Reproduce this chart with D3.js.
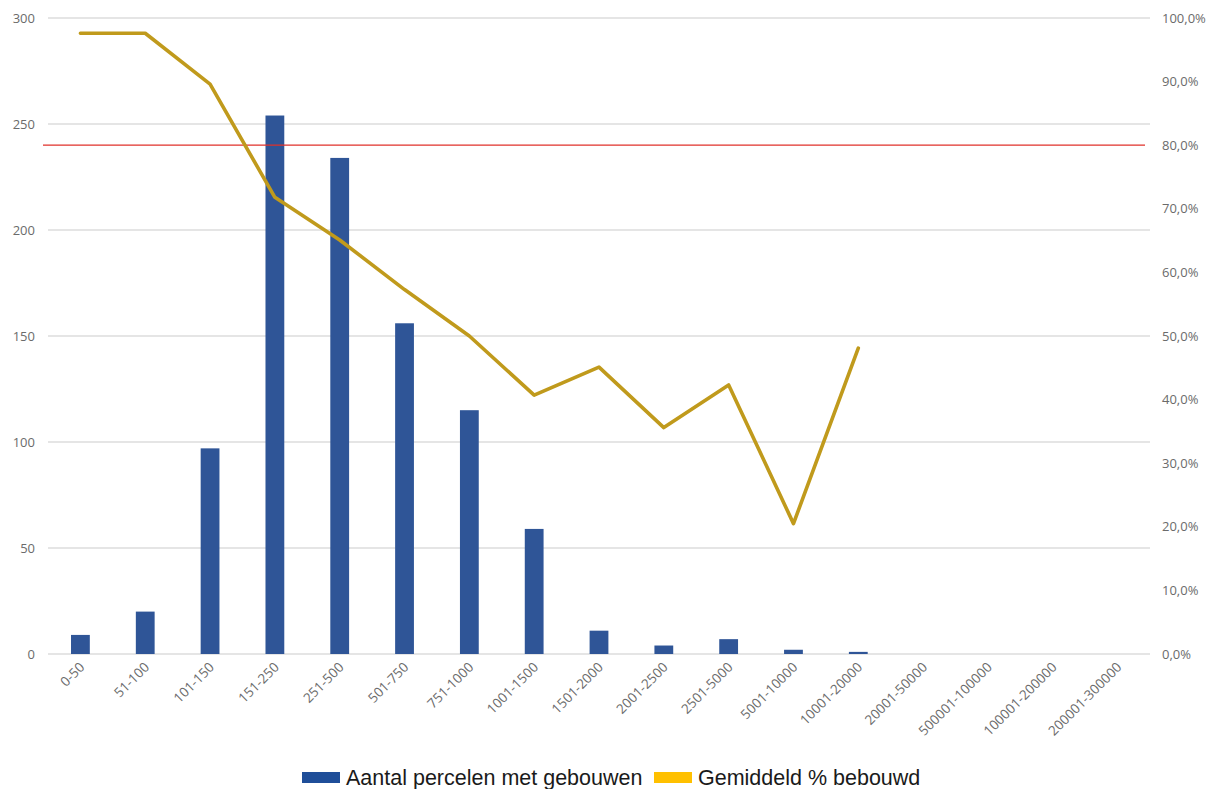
<!DOCTYPE html>
<html>
<head>
<meta charset="utf-8">
<script src="https://cdn.jsdelivr.net/npm/d3@7"></script>
<style>
  html, body { margin: 0; padding: 0; background: #fff; }
  svg { display: block; }
</style>
</head>
<body>
<svg id="chart" width="1218" height="789"></svg>
<script>
const categories = ["0-50","51-100","101-150","151-250","251-500","501-750","751-1000","1001-1500","1501-2000","2001-2500","2501-5000","5001-10000","10001-20000","20001-50000","500001-100000","100001-200000","200001-300000"];
const aantal = [9, 20, 97, 254, 234, 156, 115, 59, 11, 4, 7, 2, 1, null, null, null, null];
const bebouwd = [0.976, 0.976, 0.896, 0.718, 0.651, 0.573, 0.500, 0.407, 0.451, 0.356, 0.423, 0.205, 0.481, null, null, null, null];
const leftTicks = [0, 50, 100, 150, 200, 250, 300];
const rightTicks = [0, 0.1, 0.2, 0.3, 0.4, 0.5, 0.6, 0.7, 0.8, 0.9, 1.0];
const threshold = 0.8;
const seriesNames = ["Aantal percelen met gebouwen", "Gemiddeld % bebouwd"];

(function () {
const svg = d3.select("#chart");
const pLeft = 48, pRight = 1150, pTop = 18, pBottom = 654;
const x = d3.scaleBand().domain(categories).range([pLeft, pRight]).paddingInner(0.71).paddingOuter(0.355);
const yL = d3.scaleLinear().domain([0, 300]).range([pBottom, pTop]);
const yR = d3.scaleLinear().domain([0, 1]).range([pBottom, pTop]);

const fontTick = "'Open Sans', sans-serif";
const tickColor = "#6b6b6b";

// gridlines
svg.append("g").selectAll("line").data(leftTicks).join("line")
  .attr("x1", pLeft).attr("x2", pRight)
  .attr("y1", d => yL(d)).attr("y2", d => yL(d))
  .attr("stroke", "#dcdcdc").attr("stroke-width", 1.3);

// left axis
const gl = svg.append("g").attr("transform", `translate(${pLeft - 13},0)`)
  .call(d3.axisLeft(yL).tickValues(leftTicks).tickSize(0).tickPadding(0).tickFormat(d3.format("d")));
gl.select(".domain").remove();
gl.selectAll("text").attr("font-family", fontTick).attr("font-size", 13).attr("fill", tickColor);

// right axis
const fmtPct = d => d3.format(".1f")(d * 100).replace(".", ",") + "%";
const gr = svg.append("g").attr("transform", `translate(${pRight + 12},0)`)
  .call(d3.axisRight(yR).tickValues(rightTicks).tickSize(0).tickPadding(0).tickFormat(fmtPct));
gr.select(".domain").remove();
gr.selectAll("text").attr("font-family", fontTick).attr("font-size", 13).attr("fill", tickColor);

// bars
svg.append("g").selectAll("rect").data(categories.map((c, i) => ({c, v: aantal[i]})).filter(d => d.v != null))
  .join("rect")
  .attr("x", d => x(d.c)).attr("width", x.bandwidth())
  .attr("y", d => yL(d.v)).attr("height", d => yL(0) - yL(d.v))
  .attr("fill", "#2F5597");

// red threshold line
svg.append("line")
  .attr("x1", pLeft - 5).attr("x2", pRight - 5)
  .attr("y1", yR(threshold)).attr("y2", yR(threshold))
  .attr("stroke", "#e0302a").attr("stroke-width", 1.2);

// line series
const lineData = categories.map((c, i) => ({c, v: bebouwd[i]})).filter(d => d.v != null);
svg.append("path").datum(lineData)
  .attr("fill", "none").attr("stroke", "#C09A1C").attr("stroke-width", 3.6)
  .attr("stroke-linejoin", "round").attr("stroke-linecap", "round")
  .attr("d", d3.line().x(d => x(d.c) + x.bandwidth() / 2).y(d => yR(d.v)));

// x axis labels
const gx = svg.append("g").attr("transform", `translate(0,${pBottom})`)
  .call(d3.axisBottom(x).tickSize(0).tickPadding(0));
gx.select(".domain").remove();
gx.selectAll("text")
  .attr("font-family", fontTick).attr("font-size", 13.5).attr("fill", tickColor)
  .attr("text-anchor", "end").attr("dy", null).attr("y", null)
  .attr("transform", "translate(5,14) rotate(-45)");

// legend
const legColors = ["#1F4E99", "#FFC000"];
const legX = [302, 654];
const lg = svg.append("g");
seriesNames.forEach((name, i) => {
  lg.append("rect").attr("x", legX[i]).attr("y", 772).attr("width", 38).attr("height", 11).attr("fill", legColors[i]);
  lg.append("text").attr("x", legX[i] + 44).attr("y", 785)
    .attr("font-family", "'Liberation Sans', Arial, sans-serif").attr("font-size", 21.5).attr("fill", "#1a1a1a")
    .text(name);
});
})();
</script>
</body>
</html>
